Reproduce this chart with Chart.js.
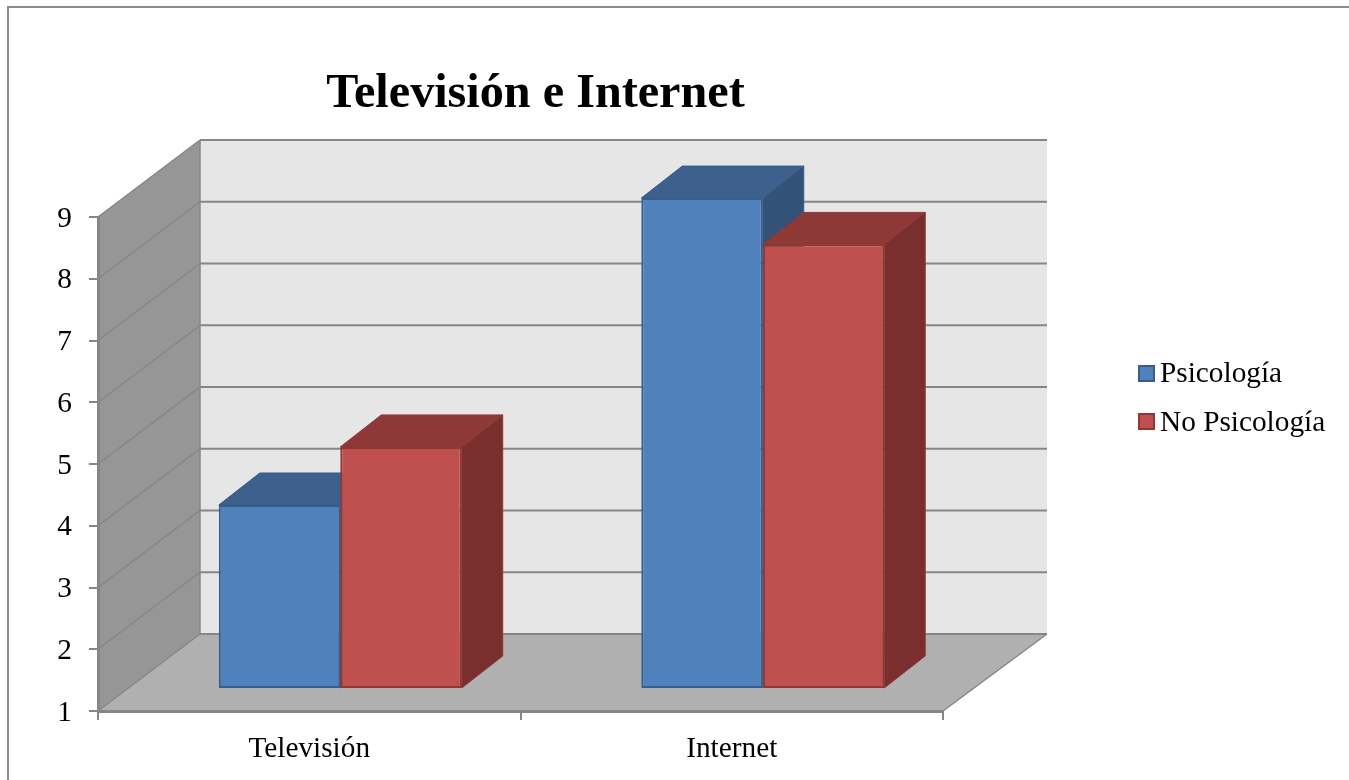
<!DOCTYPE html>
<html>
<head>
    <title>Televisión e Internet</title>
    <script src="https://cdn.jsdelivr.net/npm/chart.js"></script>
    <style>
        html, body { margin: 0; padding: 0; background: #fff; overflow: hidden; }
        #chart { position: absolute; left: 0; top: 0; display: block; }
        #frame { position: absolute; left: 7px; top: 6px; width: 1342px; height: 774px; box-sizing: border-box;
                 border-left: 2px solid #8c8c8c; border-top: 2px solid #8c8c8c; }
    </style>
</head>
<body>
    <canvas id="chart" width="1349" height="780"></canvas>
    <div id="frame"></div>
    <script>
        const categories = ['Televisión', 'Internet'];
        const psicologia = [3.98, 8.95];
        const noPsicologia = [4.92, 8.2];
        const seriesNames = ['Psicología', 'No Psicología'];
        const frontColors = ['#4f81bd', '#c0504d'];
        const edgeColors = ['#385d8a', '#8c3836'];
        const topColors = ['#3d618c', '#8e3937'];
        const sideColors = ['#325278', '#7a2f2e'];

        const FONT = '"Liberation Serif", "Times New Roman", serif';
        const wallDepth = { x: 102, y: -77 };   // box depth
        const barShift = { x: 31, y: -22 };     // bars stand inside the floor
        const barDepth = { x: 41, y: -32 };

        function poly(ctx, pts, fill, stroke) {
            ctx.beginPath();
            pts.forEach((p, i) => i ? ctx.lineTo(p[0], p[1]) : ctx.moveTo(p[0], p[1]));
            ctx.closePath();
            ctx.fillStyle = fill;
            ctx.fill();
            if (stroke) {
                ctx.strokeStyle = stroke;
                ctx.lineWidth = 1;
                ctx.stroke();
            }
        }

        // walls and floor of the 3D box, placed from the scales
        const boxPlugin = {
            id: 'box',
            beforeDraw(chart) {
                const { ctx, scales: { x, y } } = chart;
                const l = x.left, r = x.right, t = y.top, b = y.bottom;
                const dx = wallDepth.x, dy = wallDepth.y;
                ctx.save();
                poly(ctx, [[l + dx, t + dy], [r + dx + 2, t + dy], [r + dx + 2, b + dy], [l + dx, b + dy]], '#e6e6e6');
                poly(ctx, [[l, t], [l + dx, t + dy], [l + dx, b + dy], [l, b]], '#969696');
                poly(ctx, [[l, b], [l + dx, b + dy], [r + dx + 2, b + dy], [r, b]], '#b0b0b0');
                ctx.strokeStyle = '#868686';
                y.ticks.forEach(tick => {
                    const py = y.getPixelForValue(tick.value);
                    ctx.lineWidth = 1.5;
                    ctx.beginPath();
                    ctx.moveTo(l, py);
                    ctx.lineTo(l + dx, py + dy);
                    ctx.stroke();
                    ctx.lineWidth = 2;
                    ctx.beginPath();
                    ctx.moveTo(l + dx, py + dy);
                    ctx.lineTo(r + dx + 2, py + dy);
                    ctx.stroke();
                });
                ctx.lineWidth = 1.5;
                ctx.beginPath();
                ctx.moveTo(r, b);
                ctx.lineTo(r + dx + 2, b + dy);
                ctx.moveTo(l + dx, t + dy);
                ctx.lineTo(l + dx, b + dy);
                ctx.stroke();
                ctx.restore();
            }
        };

        // top and side faces of each bar, the front comes from the library
        const barFacesPlugin = {
            id: 'barFaces',
            beforeDatasetsDraw(chart) {
                const ctx = chart.ctx;
                ctx.save();
                ctx.translate(barShift.x, barShift.y);
                chart.data.datasets.forEach((ds, i) => {
                    chart.getDatasetMeta(i).data.forEach(bar => {
                        const { x, y, base, width } = bar.getProps(['x', 'y', 'base', 'width'], true);
                        const a = x - width / 2, c = x + width / 2;
                        const dx = barDepth.x, dy = barDepth.y;
                        poly(ctx, [[c, y], [c + dx, y + dy], [c + dx, base + dy], [c, base]], sideColors[i], edgeColors[i]);
                        poly(ctx, [[a, y], [a + dx, y + dy], [c + dx, y + dy], [c, y]], topColors[i], edgeColors[i]);
                    });
                });
            },
            afterDatasetsDraw(chart) {
                chart.ctx.restore();
            }
        };

        const legendPlugin = {
            id: 'sideLegend',
            afterDraw(chart) {
                const ctx = chart.ctx;
                ctx.save();
                ctx.font = '29.3px ' + FONT;
                ctx.textBaseline = 'alphabetic';
                chart.data.datasets.forEach((ds, i) => {
                    const rowY = 366 + i * 48.5;
                    ctx.fillStyle = ds.backgroundColor;
                    ctx.fillRect(1139, Math.floor(rowY), 15, 15);
                    ctx.strokeStyle = ds.borderColor;
                    ctx.lineWidth = 2;
                    ctx.strokeRect(1139, Math.floor(rowY), 15, 15);
                    ctx.fillStyle = '#000';
                    ctx.fillText(ds.label, 1160, Math.round(rowY + 16));
                });
                ctx.restore();
            }
        };

        // title sits a little right of the plot centre
        const titleShiftPlugin = {
            id: 'titleShift',
            afterLayout(chart) {
                chart.titleBlock.left += 15;
                chart.titleBlock.right += 15;
            }
        };

        new Chart(document.getElementById('chart').getContext('2d'), {
            type: 'bar',
            data: {
                labels: categories,
                datasets: [
                    { label: seriesNames[0], data: psicologia, base: 1, borderSkipped: false, backgroundColor: frontColors[0], borderColor: edgeColors[0], borderWidth: 2 },
                    { label: seriesNames[1], data: noPsicologia, base: 1, borderSkipped: false, backgroundColor: frontColors[1], borderColor: edgeColors[1], borderWidth: 2 }
                ]
            },
            options: {
                responsive: false,
                animation: false,
                clip: false,
                layout: { padding: { left: 0, right: 406, top: 0, bottom: 0 } },
                barPercentage: 1,
                categoryPercentage: 0.575,
                plugins: {
                    legend: { display: false },
                    tooltip: { enabled: false },
                    title: {
                        display: true,
                        text: 'Televisión e Internet',
                        fullSize: false,
                        color: '#000',
                        font: { family: FONT, size: 48.2, weight: 'bold', lineHeight: 1.2 },
                        padding: { top: 66, bottom: 93.16 }
                    }
                },
                scales: {
                    x: {
                        afterFit(s) { s.height = 69; },
                        grid: { drawOnChartArea: false, color: '#868686', tickLength: 9, lineWidth: 2 },
                        border: { color: '#868686', width: 3 },
                        ticks: { color: '#000', padding: 12, font: { family: FONT, size: 29.3 } }
                    },
                    y: {
                        min: 1,
                        max: 9,
                        afterFit(s) { s.width = 98; },
                        grid: { drawOnChartArea: false, color: '#868686', tickLength: 9, lineWidth: 2 },
                        border: { color: '#868686', width: 3 },
                        ticks: { stepSize: 1, color: '#000', padding: 17, labelOffset: 2, font: { family: FONT, size: 29.3 } }
                    }
                }
            },
            plugins: [boxPlugin, barFacesPlugin, legendPlugin, titleShiftPlugin]
        });
    </script>
</body>
</html>
